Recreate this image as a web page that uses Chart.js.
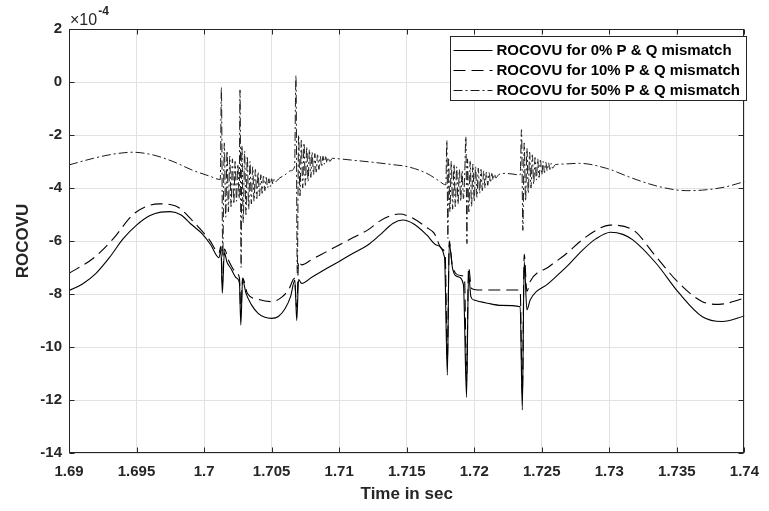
<!DOCTYPE html>
<html>
<head>
<meta charset="utf-8">
<script src="https://cdn.jsdelivr.net/npm/chart.js@4.4.1/dist/chart.umd.min.js"></script>
<style>
  body { margin: 0; background: #fff; }
  #wrap { width: 769px; height: 511px; }
</style>
</head>
<body>
<div id="wrap"><canvas id="rocovu" width="769" height="511"></canvas></div>
<script>
// time axis ticks (s) and ROCOVU ticks (x1e-4)
const xTicks = [1.69, 1.695, 1.7, 1.705, 1.71, 1.715, 1.72, 1.725, 1.73, 1.735, 1.74]
const yTicks = [-14, -12, -10, -8, -6, -4, -2, 0, 2]

const seriesLabels = [
  'ROCOVU for 0% P & Q mismatch',
  'ROCOVU for 10% P & Q mismatch',
  'ROCOVU for 50% P & Q mismatch'
]

// [time, ROCOVU x1e-4]
const mismatch0 = [
  [1.6900,-7.87],[1.6910,-7.62],[1.6920,-7.22],[1.6930,-6.62],[1.6940,-5.92],[1.6950,-5.40],
  [1.6960,-5.04],[1.6968,-4.91],[1.6975,-4.89],[1.6983,-5.02],[1.6990,-5.35],[1.6999,-5.75],
  [1.7005,-6.15],[1.7011,-6.63],[1.70125,-6.35],[1.70135,-7.97],[1.70150,-6.45],[1.70170,-6.80],
  [1.70200,-7.05],[1.70240,-7.40],[1.70262,-7.60],[1.70272,-9.17],[1.70285,-7.45],[1.70310,-7.97],
  [1.70350,-8.40],[1.70400,-8.73],[1.70450,-8.88],[1.70500,-8.92],[1.70550,-8.85],[1.70600,-8.55],
  [1.70640,-8.10],[1.70672,-7.47],[1.70686,-9.00],[1.70700,-7.45],[1.70722,-7.60],[1.70800,-7.36],
  [1.70900,-7.06],[1.71000,-6.77],[1.71100,-6.47],[1.71213,-6.15],[1.71300,-5.78],[1.71400,-5.33],
  [1.71471,-5.21],[1.71550,-5.35],[1.71650,-5.78],[1.71720,-6.15],[1.71780,-6.62],[1.71801,-11.06],
  [1.71815,-6.10],[1.71840,-7.05],[1.71880,-7.35],[1.71920,-7.65],[1.71943,-11.90],[1.71958,-7.20],
  [1.71975,-8.10],[1.72000,-8.23],[1.72100,-8.35],[1.72200,-8.43],[1.72340,-8.48],[1.72356,-12.38],
  [1.72370,-6.78],[1.72390,-8.60],[1.72414,-8.23],[1.72550,-7.60],[1.72684,-6.97],[1.72800,-6.35],
  [1.72900,-5.92],[1.73010,-5.67],[1.73100,-5.75],[1.73174,-5.96],[1.73346,-6.84],[1.73517,-7.97],
  [1.73689,-8.86],[1.73836,-9.04],[1.74000,-8.83]
]

const mismatch10 = [
  [1.6900,-7.22],[1.6918,-6.65],[1.6933,-5.90],[1.6947,-5.02],[1.6958,-4.68],[1.6967,-4.60],
  [1.6979,-4.68],[1.6991,-5.21],[1.7004,-5.96],[1.7011,-6.45],[1.70125,-6.20],[1.70135,-7.60],
  [1.70150,-6.30],[1.70180,-6.72],[1.70240,-7.20],[1.70262,-7.40],[1.70272,-8.80],[1.70285,-7.40],
  [1.70320,-7.97],[1.70400,-8.20],[1.70500,-8.29],[1.70580,-8.10],[1.70630,-7.80],[1.70668,-7.41],
  [1.70686,-8.50],[1.70700,-6.75],[1.70722,-6.90],[1.70800,-6.69],[1.70900,-6.42],[1.71000,-6.15],
  [1.71100,-5.88],[1.71213,-5.58],[1.71300,-5.25],[1.71380,-5.05],[1.71446,-4.98],[1.71550,-5.15],
  [1.71650,-5.50],[1.71704,-5.71],[1.71760,-6.30],[1.71785,-6.55],[1.71801,-10.50],[1.71815,-6.00],
  [1.71840,-7.00],[1.71900,-7.30],[1.71928,-7.40],[1.71943,-11.30],[1.71958,-7.00],[1.71980,-7.79],
  [1.72050,-7.85],[1.72340,-7.85],[1.72356,-11.80],[1.72370,-6.50],[1.72390,-7.90],[1.72414,-7.53],
  [1.72550,-6.98],[1.72684,-6.47],[1.72800,-5.95],[1.72900,-5.60],[1.73002,-5.40],[1.73174,-5.58],
  [1.73346,-6.59],[1.73517,-7.60],[1.73689,-8.29],[1.73811,-8.39],[1.74000,-8.16]
]

const mismatch50 = [
  [1.6900,-3.13],[1.6918,-2.88],[1.6933,-2.72],[1.6947,-2.65],[1.6962,-2.75],[1.6977,-3.00],
  [1.6991,-3.32],[1.7004,-3.55],[1.7012,-3.68],
  // first switching event
  [1.70128,-0.20],[1.70138,-6.60],[1.7015,-2.30],[1.7016,-5.10],[1.7017,-2.60],[1.7018,-4.90],
  [1.7019,-2.80],[1.7020,-4.70],[1.7021,-2.90],[1.7022,-4.60],[1.7023,-3.00],[1.7024,-4.50],
  [1.7025,-3.10],[1.7026,-4.40],
  [1.70266,-0.30],[1.70274,-7.00],[1.7028,-2.40],[1.7029,-5.30],[1.7030,-2.60],[1.7031,-5.00],
  [1.7032,-2.80],[1.7033,-4.80],[1.7034,-3.00],[1.7035,-4.60],[1.7036,-3.20],[1.7037,-4.50],
  [1.7038,-3.30],[1.7039,-4.40],[1.7040,-3.40],[1.7041,-4.30],[1.7042,-3.50],[1.7043,-4.20],
  [1.7044,-3.55],[1.7045,-4.10],[1.7046,-3.60],[1.7047,-4.00],[1.7048,-3.65],[1.7049,-3.95],
  [1.7050,-3.65],[1.7051,-3.85],[1.7052,-3.65],[1.7053,-3.75],[1.7056,-3.62],[1.7060,-3.50],
  [1.7064,-3.35],[1.7067,-3.20],
  [1.70680,0.25],[1.70690,-7.20],[1.7070,-2.00],[1.7071,-4.30],[1.7072,-2.20],[1.7073,-4.00],
  [1.7074,-2.30],[1.7075,-3.90],[1.7076,-2.45],[1.7077,-3.75],[1.7078,-2.55],[1.7079,-3.60],
  [1.7080,-2.65],[1.7081,-3.50],[1.7082,-2.70],[1.7083,-3.40],[1.7084,-2.75],[1.7085,-3.30],
  [1.7086,-2.80],[1.7087,-3.20],[1.7088,-2.80],[1.7089,-3.10],[1.7090,-2.82],[1.7091,-3.05],
  [1.7092,-2.85],[1.7093,-3.00],[1.7095,-2.88],
  [1.7100,-2.90],[1.7110,-2.95],[1.7125,-3.03],[1.7140,-3.12],[1.7151,-3.20],[1.7165,-3.45],
  [1.7173,-3.70],[1.7179,-3.88],
  // second switching event
  [1.71797,-2.20],[1.71805,-5.90],[1.7181,-2.90],[1.7182,-4.90],[1.7183,-3.00],[1.7184,-4.80],
  [1.7185,-3.10],[1.7186,-4.70],[1.7187,-3.20],[1.7188,-4.60],[1.7189,-3.30],[1.7190,-4.50],
  [1.7191,-3.35],[1.7192,-4.40],[1.7193,-3.40],
  [1.71938,-2.06],[1.71946,-6.10],[1.7195,-2.90],[1.7196,-4.90],[1.7197,-3.00],[1.7198,-4.70],
  [1.7199,-3.10],[1.7200,-4.50],[1.7201,-3.20],[1.7202,-4.35],[1.7203,-3.25],[1.7204,-4.20],
  [1.7205,-3.30],[1.7206,-4.10],[1.7207,-3.35],[1.7208,-4.00],[1.7209,-3.40],[1.7210,-3.90],
  [1.7211,-3.42],[1.7212,-3.80],[1.7213,-3.45],[1.7214,-3.70],[1.7215,-3.47],[1.7216,-3.62],
  [1.7218,-3.50],[1.7222,-3.45],[1.7228,-3.47],[1.7234,-3.51],
  [1.72350,-1.80],[1.72360,-5.60],[1.7237,-2.30],[1.7238,-4.50],[1.7239,-2.50],[1.7240,-4.20],
  [1.7241,-2.65],[1.7242,-4.00],[1.7243,-2.75],[1.7244,-3.85],[1.7245,-2.85],[1.7246,-3.70],
  [1.7247,-2.90],[1.7248,-3.60],[1.7249,-2.95],[1.7250,-3.50],[1.7251,-3.00],[1.7252,-3.42],
  [1.7253,-3.03],[1.7254,-3.35],[1.7255,-3.05],[1.7256,-3.30],[1.7257,-3.07],[1.7258,-3.25],
  [1.7260,-3.12],
  [1.7264,-3.10],[1.7278,-3.07],[1.7298,-3.26],[1.7317,-3.63],[1.7337,-3.95],[1.7357,-4.10],
  [1.7369,-4.08],[1.7385,-3.97],[1.7400,-3.76]
]

const FONT = "'Liberation Sans', Arial, Helvetica, sans-serif"
const INK = '#262626'

const toPoints = arr => arr.map(([x, y]) => ({ x, y }))

// box, inward ticks, exponent label and legend (matlab style)
const matlabFrame = {
  id: 'matlabFrame',
  afterDraw(chart) {
    const { ctx, chartArea: a, scales } = chart
    const L = Math.round(a.left) + 0.5, R = Math.round(a.right) - 0.5
    const T = Math.round(a.top) + 0.5, B = Math.round(a.bottom) - 0.5
    ctx.save()
    ctx.strokeStyle = INK
    ctx.lineWidth = 1
    ctx.setLineDash([])
    ctx.beginPath()
    const tl = 5
    xTicks.forEach(v => {
      const px = Math.round(scales.x.getPixelForValue(v)) + 0.5
      ctx.moveTo(px, B); ctx.lineTo(px, B - tl)
      ctx.moveTo(px, T); ctx.lineTo(px, T + tl)
    })
    yTicks.forEach(v => {
      const py = Math.round(scales.y.getPixelForValue(v)) + 0.5
      ctx.moveTo(L, py); ctx.lineTo(L + tl, py)
      ctx.moveTo(R, py); ctx.lineTo(R - tl, py)
    })
    ctx.stroke()
    ctx.strokeRect(L, T, R - L, B - T)

    // x10^-4 multiplier
    ctx.fillStyle = INK
    ctx.textBaseline = 'alphabetic'
    ctx.textAlign = 'left'
    ctx.font = `16px ${FONT}`
    ctx.fillText('\u00d710', a.left + 1, a.top - 4)
    const w = ctx.measureText('\u00d710').width
    ctx.font = `bold 12px ${FONT}`
    ctx.fillText('-4', a.left + 2 + w, a.top - 14)

    // legend
    const bx = 450.5, by = 36.5, bw = 296, bh = 64
    ctx.fillStyle = '#fff'
    ctx.fillRect(bx, by, bw, bh)
    ctx.strokeStyle = INK
    ctx.strokeRect(bx, by, bw, bh)
    ctx.font = `bold 15px ${FONT}`
    ctx.textBaseline = 'middle'
    chart.data.datasets.forEach((ds, i) => {
      const ry = by + 14 + i * 20
      ctx.strokeStyle = ds.borderColor
      ctx.lineWidth = ds.borderWidth
      ctx.setLineDash(ds.borderDash || [])
      ctx.beginPath()
      ctx.moveTo(bx + 3, ry)
      ctx.lineTo(bx + 42, ry)
      ctx.stroke()
      ctx.setLineDash([])
      ctx.fillStyle = '#000'
      ctx.fillText(ds.label, bx + 46, ry)
    })
    ctx.restore()
  }
}

new Chart(document.getElementById('rocovu').getContext('2d'), {
  type: 'line',
  data: {
    datasets: [
      { label: seriesLabels[0], data: toPoints(mismatch0), borderColor: '#000', borderWidth: 1.1, borderDash: [] },
      { label: seriesLabels[1], data: toPoints(mismatch10), borderColor: '#000', borderWidth: 1.1, borderDash: [12, 6] },
      { label: seriesLabels[2], data: toPoints(mismatch50), borderColor: '#1a1a1a', borderWidth: 1, borderDash: [9, 3, 2, 3] }
    ]
  },
  options: {
    responsive: false,
    animation: false,
    parsing: false,
    elements: { point: { radius: 0 }, line: { cubicInterpolationMode: 'monotone' } },
    layout: { padding: { top: 29, right: 20, bottom: 0, left: 0 } },
    plugins: { legend: { display: false }, tooltip: { enabled: false } },
    scales: {
      x: {
        type: 'linear',
        min: 1.69,
        max: 1.74,
        afterBuildTicks: s => { s.ticks = xTicks.map(v => ({ value: v })) },
        afterFit: s => { s.height = 58 },
        grid: { color: '#e2e2e2', drawTicks: false },
        border: { display: false },
        ticks: {
          padding: 10,
          color: INK,
          font: { family: FONT, size: 15, weight: 'bold' },
          maxRotation: 0,
          callback: v => String(v)
        },
        title: {
          display: true,
          text: 'Time in sec',
          color: INK,
          font: { family: FONT, size: 17, weight: 'bold' },
          padding: { top: 0, bottom: 6 }
        }
      },
      y: {
        type: 'linear',
        min: -14,
        max: 2,
        afterBuildTicks: s => { s.ticks = yTicks.map(v => ({ value: v })) },
        afterFit: s => { s.width = 69 },
        grid: { color: '#e2e2e2', drawTicks: false },
        border: { display: false },
        ticks: {
          padding: 7,
          color: INK,
          font: { family: FONT, size: 15, weight: 'bold' },
          callback: v => String(v)
        },
        title: {
          display: true,
          text: 'ROCOVU',
          color: INK,
          font: { family: FONT, size: 17, weight: 'bold' },
          padding: { top: 13, bottom: 0 }
        }
      }
    }
  },
  plugins: [matlabFrame]
})
</script>
</body>
</html>
